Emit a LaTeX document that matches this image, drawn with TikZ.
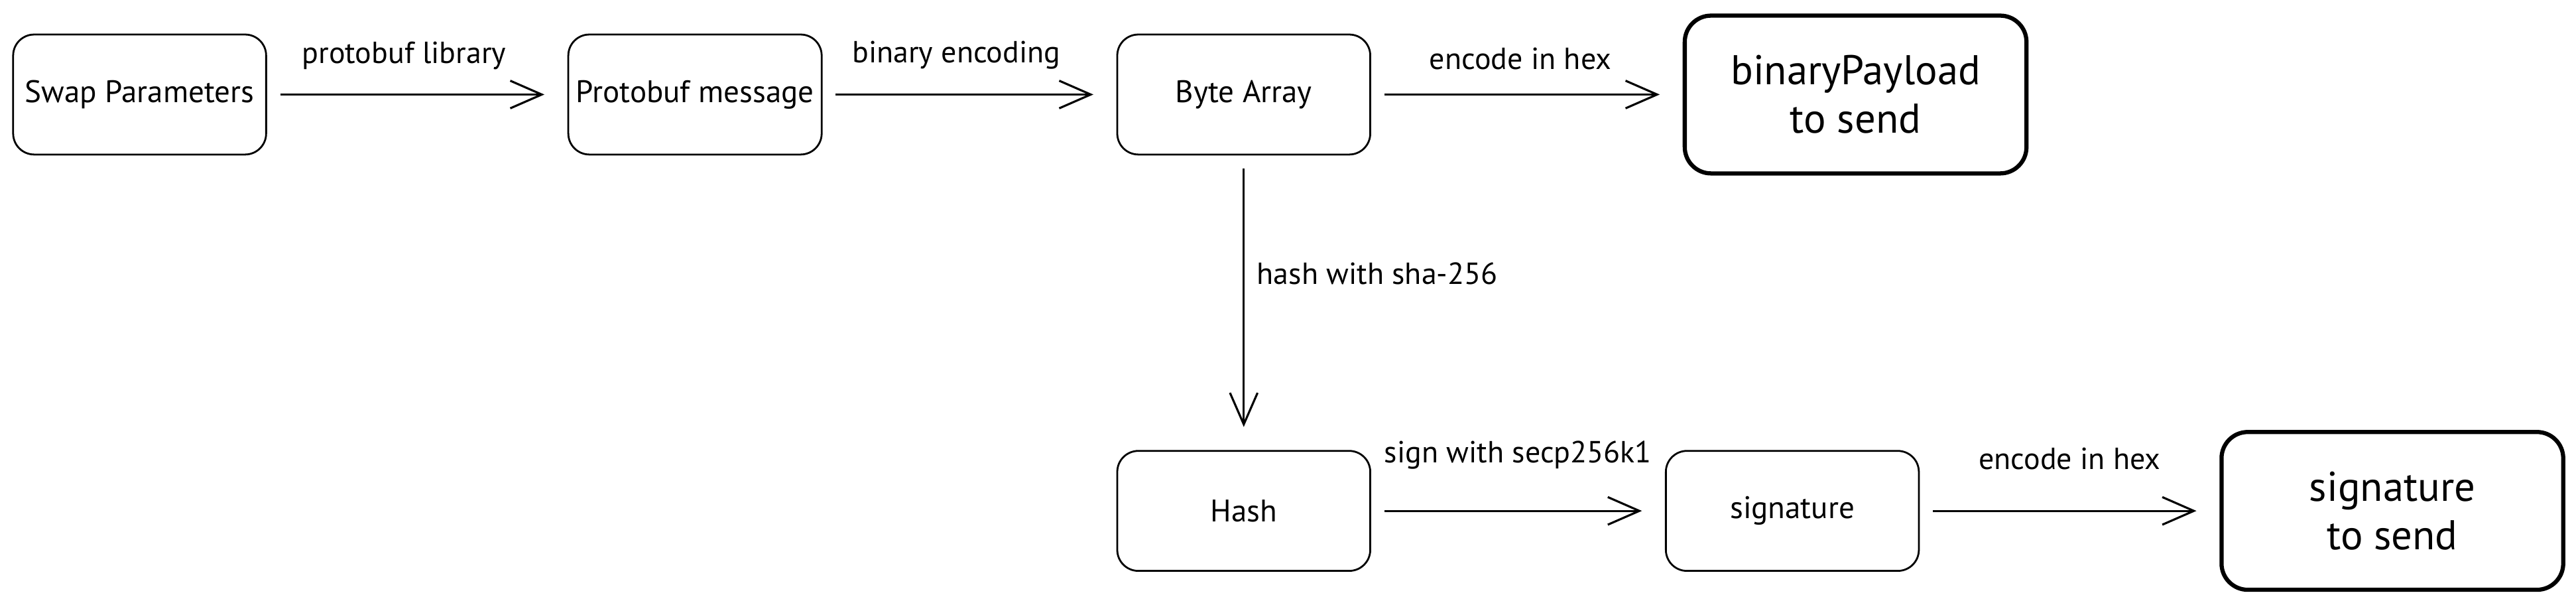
\documentclass[tikz,border=0pt]{standalone}
\usepackage{fontspec}
\setmainfont{PT Sans}
\usetikzlibrary{positioning,arrows.meta,calc}
\tikzset{
  stage/.style={draw=black, line width=0.8pt, rounded corners=0.32cm,
    minimum width=3.85cm, minimum height=1.825cm, font=\fontsize{13.5}{15}\selectfont},
  result/.style={draw=black, line width=1.8pt, rounded corners=0.4cm, align=center,
    minimum width=5.2cm, minimum height=2.4cm, font=\fontsize{18}{21}\selectfont},
  flow/.style={draw=black, line width=0.9pt, -{Straight Barb[length=0.48cm,width=0.42cm]},
    shorten <=0.2cm, shorten >=0.35cm},
  note/.style={font=\fontsize{13.2}{15}\selectfont, inner sep=1pt}
}
\begin{document}
\begin{tikzpicture}[node distance=4.5cm and 4.5cm]
  \useasboundingbox (0,0) rectangle (39.2,-9.2);
  % top row
  \node[stage] (swap) at (2.125,-1.4375) {Swap Parameters};
  \node[stage, right=4.57cm of swap] (proto) {Protobuf message};
  \node[stage, right=4.47cm of proto] (bytes) {Byte Array};
  \node[result, right=4.74cm of bytes] (payload) {binaryPayload\\to send};
  % bottom row
  \node[stage, below=4.48cm of bytes] (hash) {Hash};
  \node[stage, right=4.47cm of hash] (sig) {signature};
  \node[result, right=4.56cm of sig] (sigout) {signature\\to send};

  \draw[flow] (swap) -- node[note, above=0.33cm, xshift=-0.2cm] {protobuf library} (proto);
  \draw[flow] (proto) -- node[note, above=0.33cm, xshift=-0.2cm] {binary encoding} (bytes);
  \draw[flow] (bytes) -- node[note, above=0.33cm, xshift=-0.1cm] {encode in hex} (payload);
  \draw[flow] (bytes) -- node[note, right=0.15cm, pos=0.4] {hash with sha-256} (hash);
  \draw[flow] (hash) -- node[note, above=0.58cm] {sign with secp256k1} (sig);
  \draw[flow] (sig) -- node[note, above=0.58cm] {encode in hex} (sigout);
\end{tikzpicture}
\end{document}
